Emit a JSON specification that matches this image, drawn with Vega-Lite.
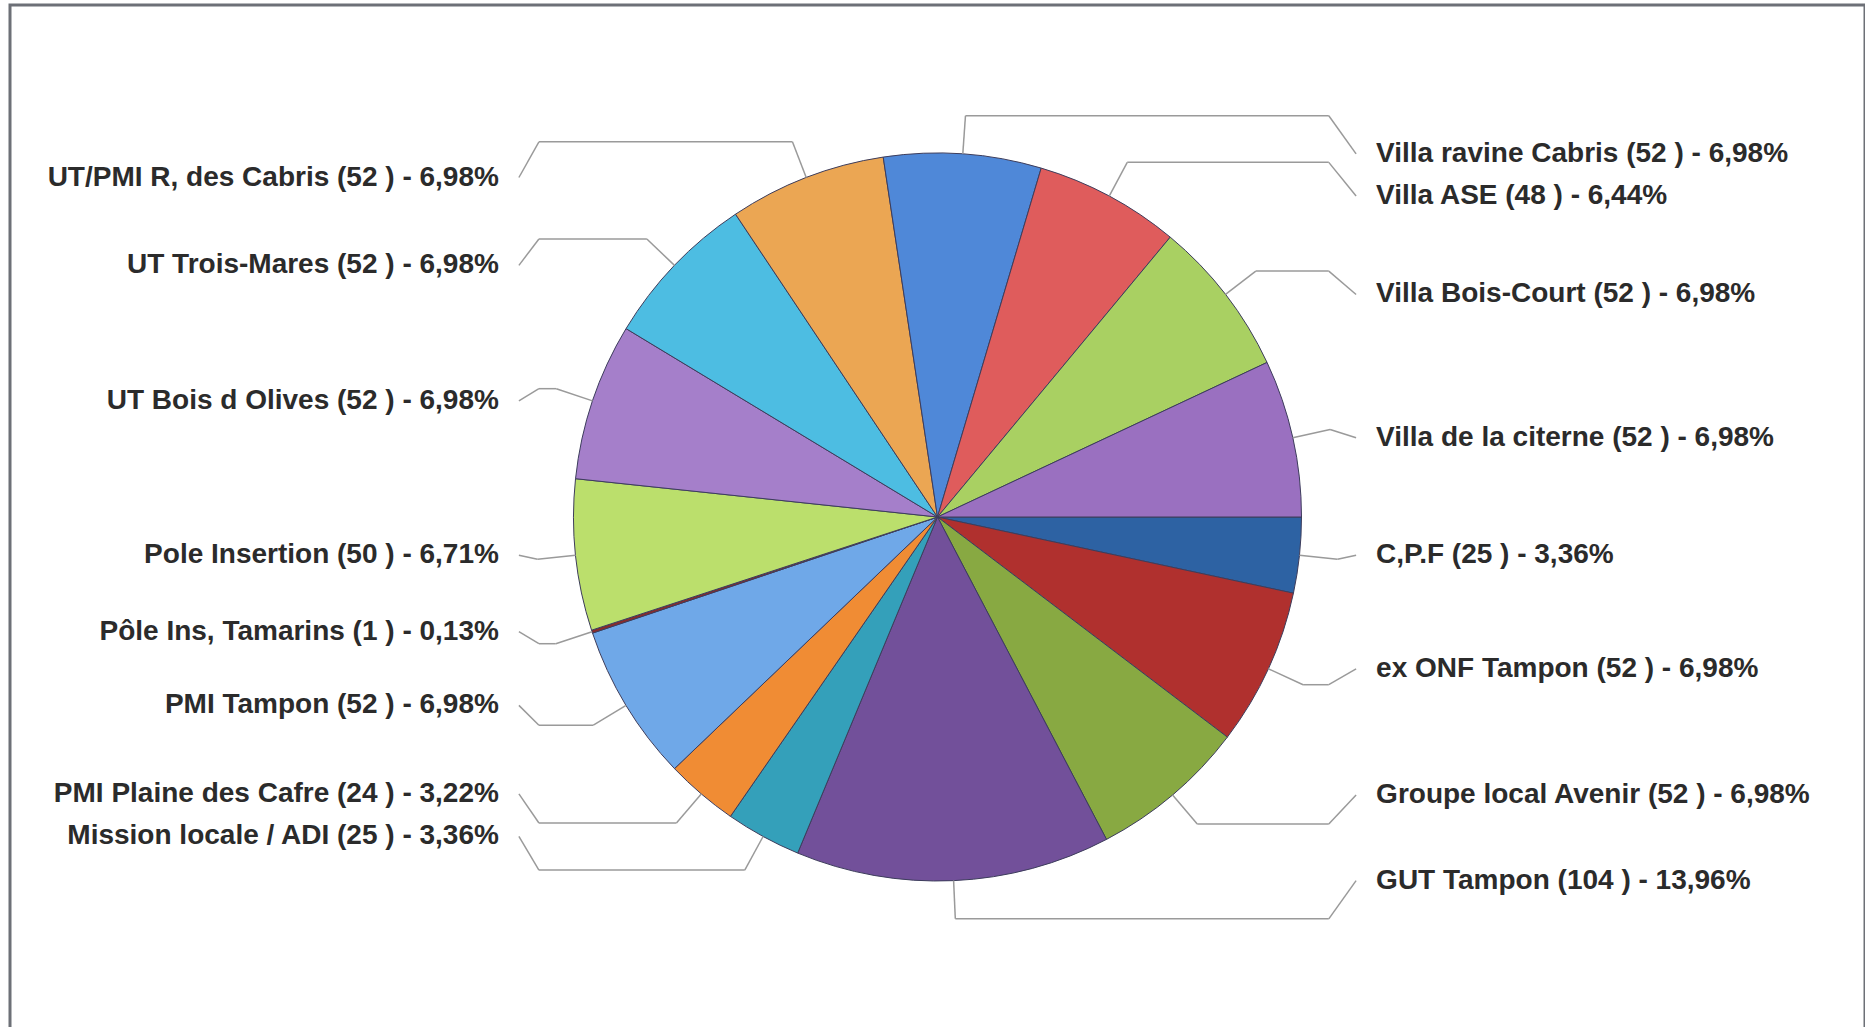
{
  "$schema": "https://vega.github.io/schema/vega-lite/v6.json",
  "width": 1855,
  "height": 1024,
  "autosize": {"type": "none"},
  "padding": {"left": 10, "top": 5, "right": 0, "bottom": 0},
  "background": "#ffffff",
  "config": {
    "view": {"stroke": "#6d7077", "strokeWidth": 3},
    "text": {"font": "Liberation Sans"}
  },
  "data": {
    "values": [
      {"i": 1, "name": "C,P.F", "count": 25, "label": "C,P.F (25 ) - 3,36%"},
      {"i": 2, "name": "ex ONF Tampon", "count": 52, "label": "ex ONF Tampon (52 ) - 6,98%"},
      {"i": 3, "name": "Groupe local Avenir", "count": 52, "label": "Groupe local Avenir (52 ) - 6,98%"},
      {"i": 4, "name": "GUT Tampon", "count": 104, "label": "GUT Tampon (104 ) - 13,96%"},
      {"i": 5, "name": "Mission locale / ADI", "count": 25, "label": "Mission locale / ADI (25 ) - 3,36%"},
      {"i": 6, "name": "PMI Plaine des Cafre", "count": 24, "label": "PMI Plaine des Cafre (24 ) - 3,22%"},
      {"i": 7, "name": "PMI Tampon", "count": 52, "label": "PMI Tampon (52 ) - 6,98%"},
      {"i": 8, "name": "Pôle Ins, Tamarins", "count": 1, "label": "Pôle Ins, Tamarins (1 ) - 0,13%"},
      {"i": 9, "name": "Pole Insertion", "count": 50, "label": "Pole Insertion (50 ) - 6,71%"},
      {"i": 10, "name": "UT Bois d Olives", "count": 52, "label": "UT Bois d Olives (52 ) - 6,98%"},
      {"i": 11, "name": "UT Trois-Mares", "count": 52, "label": "UT Trois-Mares (52 ) - 6,98%"},
      {"i": 12, "name": "UT/PMI R, des Cabris", "count": 52, "label": "UT/PMI R, des Cabris (52 ) - 6,98%"},
      {"i": 13, "name": "Villa ravine Cabris", "count": 52, "label": "Villa ravine Cabris (52 ) - 6,98%"},
      {"i": 14, "name": "Villa ASE", "count": 48, "label": "Villa ASE (48 ) - 6,44%"},
      {"i": 15, "name": "Villa Bois-Court", "count": 52, "label": "Villa Bois-Court (52 ) - 6,98%"},
      {"i": 16, "name": "Villa de la citerne", "count": 52, "label": "Villa de la citerne (52 ) - 6,98%"}
    ]
  },
  "transform": [
    {"joinaggregate": [{"op": "sum", "field": "count", "as": "total"}]},
    {"stack": "count", "groupby": [], "sort": [{"field": "i", "order": "ascending"}], "as": ["c0", "c1"]},
    {"calculate": "PI * (datum.c0 + datum.c1) / datum.total", "as": "mid"},
    {"calculate": "cos(datum.mid)", "as": "cs"},
    {"calculate": "sin(datum.mid)", "as": "sn"},
    {"calculate": "1.105 * datum.cs", "as": "px1"},
    {"calculate": "1.105 * datum.sn", "as": "py1"},
    {"calculate": "datum.cs > 0 ? max(datum.px1, 1.075) : min(datum.px1, -1.095)", "as": "px2"},
    {"calculate": "datum.cs > 0 ? 1.15 : -1.15", "as": "px3"},
    {"calculate": "datum.cs > 0 ? 1.205 : -1.205", "as": "lx"}
  ],
  "layer": [
    {
      "mark": {"type": "arc", "outerRadius": 364, "stroke": "#3d3d5c", "strokeWidth": 1},
      "encoding": {
        "theta": {"field": "count", "type": "quantitative", "stack": true, "scale": {"range": [1.5708, 7.854]}},
        "order": {"field": "i", "type": "quantitative"},
        "color": {
          "field": "name",
          "type": "nominal",
          "legend": null,
          "scale": {
            "domain": ["C,P.F", "ex ONF Tampon", "Groupe local Avenir", "GUT Tampon", "Mission locale / ADI", "PMI Plaine des Cafre", "PMI Tampon", "Pôle Ins, Tamarins", "Pole Insertion", "UT Bois d Olives", "UT Trois-Mares", "UT/PMI R, des Cabris", "Villa ravine Cabris", "Villa ASE", "Villa Bois-Court", "Villa de la citerne"],
            "range": ["#2d62a3", "#b0302e", "#88a942", "#72509a", "#34a0ba", "#f08c34", "#6fa8e8", "#8c2a2a", "#bbdf6c", "#a57fca", "#4dbde2", "#eba653", "#4f88d8", "#df5c5c", "#a9d062", "#9a70c0"]
          }
        }
      }
    },
    {
      "mark": {"type": "rule", "color": "#9a9a9a", "strokeWidth": 1.5},
      "encoding": {
        "x": {"field": "cs", "type": "quantitative", "axis": null, "scale": {"domain": [-2.5481, 2.5481], "nice": false, "zero": false}},
        "y": {"field": "sn", "type": "quantitative", "axis": null, "scale": {"domain": [-1.4066, 1.4066], "nice": false, "zero": false, "reverse": true}},
        "x2": {"field": "px1"},
        "y2": {"field": "py1"}
      }
    },
    {
      "mark": {"type": "rule", "color": "#9a9a9a", "strokeWidth": 1.5},
      "encoding": {
        "x": {"field": "px1", "type": "quantitative", "axis": null, "scale": {"domain": [-2.5481, 2.5481], "nice": false, "zero": false}},
        "y": {"field": "py1", "type": "quantitative", "axis": null, "scale": {"domain": [-1.4066, 1.4066], "nice": false, "zero": false, "reverse": true}},
        "x2": {"field": "px2"},
        "y2": {"field": "py1"}
      }
    },
    {
      "mark": {"type": "rule", "color": "#9a9a9a", "strokeWidth": 1.5},
      "encoding": {
        "x": {"field": "px2", "type": "quantitative", "axis": null, "scale": {"domain": [-2.5481, 2.5481], "nice": false, "zero": false}},
        "y": {"field": "py1", "type": "quantitative", "axis": null, "scale": {"domain": [-1.4066, 1.4066], "nice": false, "zero": false, "reverse": true}},
        "x2": {"field": "px3"},
        "y2": {"field": "sn"}
      }
    },
    {
      "transform": [{"filter": "datum.cs > 0"}],
      "mark": {"type": "text", "align": "left", "baseline": "middle", "fontSize": 28, "fontWeight": "bold", "color": "#2b2b2b"},
      "encoding": {
        "x": {"field": "lx", "type": "quantitative", "axis": null, "scale": {"domain": [-2.5481, 2.5481], "nice": false, "zero": false}},
        "y": {"field": "sn", "type": "quantitative", "axis": null, "scale": {"domain": [-1.4066, 1.4066], "nice": false, "zero": false, "reverse": true}},
        "text": {"field": "label", "type": "nominal"}
      }
    },
    {
      "transform": [{"filter": "datum.cs <= 0"}],
      "mark": {"type": "text", "align": "right", "baseline": "middle", "fontSize": 28, "fontWeight": "bold", "color": "#2b2b2b"},
      "encoding": {
        "x": {"field": "lx", "type": "quantitative", "axis": null, "scale": {"domain": [-2.5481, 2.5481], "nice": false, "zero": false}},
        "y": {"field": "sn", "type": "quantitative", "axis": null, "scale": {"domain": [-1.4066, 1.4066], "nice": false, "zero": false, "reverse": true}},
        "text": {"field": "label", "type": "nominal"}
      }
    }
  ]
}
